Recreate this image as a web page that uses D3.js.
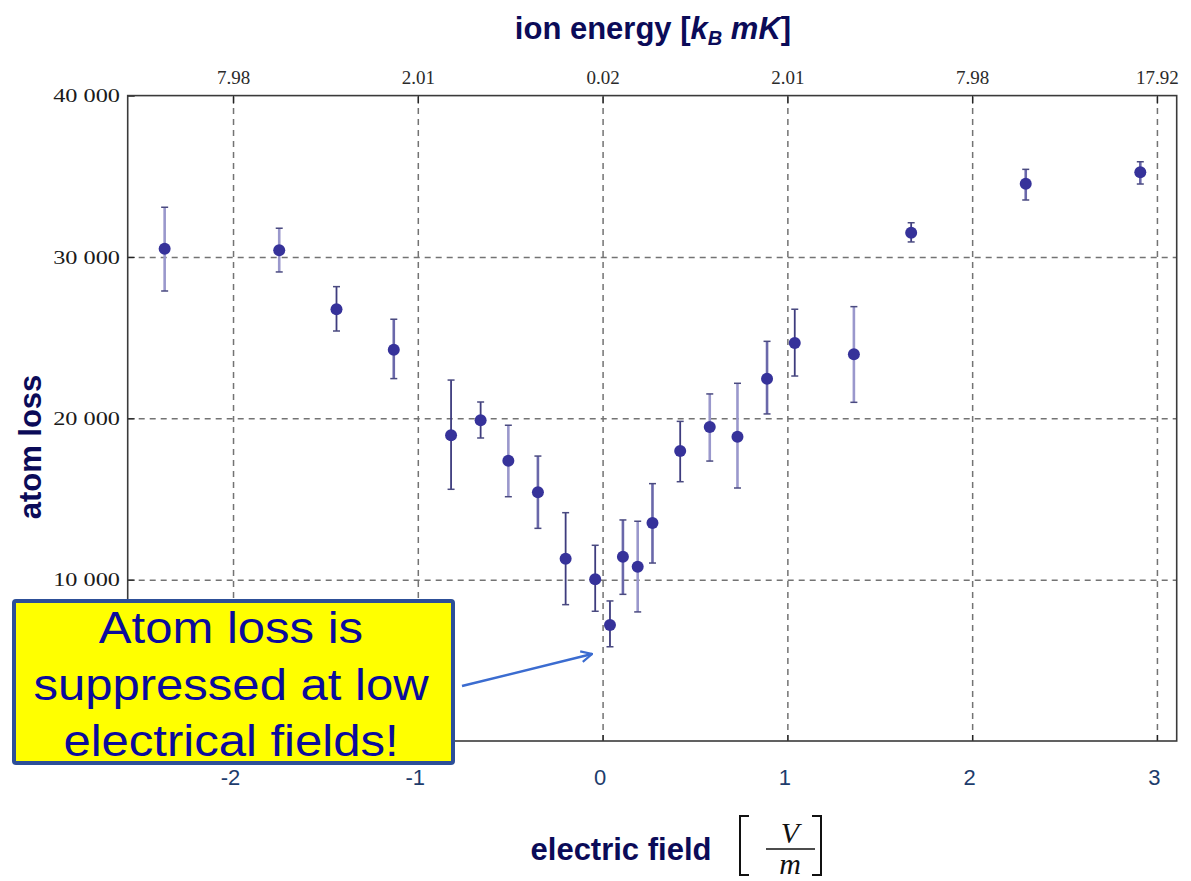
<!DOCTYPE html>
<html>
<head>
<meta charset="utf-8">
<script src="https://cdn.jsdelivr.net/npm/d3@7"></script>
<style>
  body { margin: 0; background: #fff; }
  svg { display: block; }
</style>
</head>
<body>
<div id="chart"></div>
<script>
// ------------ DATA ------------
// electric field [V/m]
var field = [-2.37, -1.75, -1.44, -1.13, -0.82, -0.66, -0.51, -0.35, -0.20, -0.04, 0.04, 0.11,
  0.19, 0.27, 0.42, 0.58, 0.73, 0.89, 1.04, 1.36, 1.67, 2.29, 2.91];
// atom loss, with error bar ends
var atomLoss = [30510, 30410, 26760, 24250, 18950, 19880, 17370, 15410, 11300, 10020, 7190, 11420,
  10800, 13510, 17970, 19460, 18860, 22450, 24670, 23970, 31500, 34540, 35250];
var errHigh = [33080, 31780, 28160, 26140, 22370, 21010, 19570, 17660, 14150, 12130, 8680, 13700,
  13620, 15950, 19810, 21510, 22170, 24770, 26760, 26920, 32120, 35430, 35900];
var errLow = [27890, 29070, 25410, 22460, 15600, 18780, 15140, 13180, 8450, 8040, 5840, 9090,
  8000, 11030, 16070, 17350, 15680, 20270, 22620, 20990, 30930, 33530, 34520];

// axis ticks
var fieldTicks = [-2, -1, 0, 1, 2, 3];
var energyLabels = ["7.98", "2.01", "0.02", "2.01", "7.98", "17.92"];
var lossTicks = [10000, 20000, 30000, 40000];
var lossGrid = [10000, 20000, 30000];

var noteLines = ["Atom loss is", "suppressed at low", "electrical fields!"];

// ------------ STYLE ------------
// error bar tone per point (0 dark, 1 mid, 2 light)
var barTone = [2, 2, 0, 1, 0, 0, 2, 1, 0, 0, 0, 1, 2, 1, 0, 2, 2, 1, 0, 2, 0, 1, 1];
var toneColor = ["#3e3c7e", "#6a68aa", "#9a98cc"];
var navy = "#0b0b58";

var svgWidth = 1191;
var svgHeight = 881;

var margin = { top: 95.6, left: 127.7, right: 1191 - 1176.7, bottom: 881 - 741 };
var chartWidth = svgWidth - margin.left - margin.right;
var chartHeight = svgHeight - margin.top - margin.bottom;

var svg = d3.select("#chart")
  .append("svg")
  .attr("width", svgWidth)
  .attr("height", svgHeight);

var chartGroup = svg.append("g")
  .attr("transform", `translate(${margin.left}, ${margin.top})`);

// ------------ SCALES ------------
var x = d3.scaleLinear()
  .domain([-2.57, 3.107])
  .range([0, chartWidth]);
var y = d3.scaleLinear()
  .domain([0, 40000])
  .range([chartHeight, 0]);

// ------------ GRID ------------
var gridX = chartGroup.append("g")
  .attr("transform", `translate(0, ${chartHeight})`)
  .call(d3.axisBottom(x).tickValues(fieldTicks).tickSize(-chartHeight).tickFormat(""));
var gridY = chartGroup.append("g")
  .call(d3.axisLeft(y).tickValues(lossGrid).tickSize(-chartWidth).tickFormat(""));
[gridX, gridY].forEach(function(g) {
  g.select(".domain").remove();
  g.selectAll("line")
    .attr("stroke", "#737373")
    .attr("stroke-width", 1.5)
    .attr("stroke-dasharray", "6,5");
});

// ------------ AXES ------------
var fmt = function(d) { return d3.format(",")(d).replace(",", " "); };

var leftAxis = chartGroup.append("g")
  .call(d3.axisLeft(y).tickValues(lossTicks).tickFormat(fmt).tickSize(-7).tickSizeOuter(0).tickPadding(6));
leftAxis.selectAll("text")
  .attr("font-family", "'Liberation Serif', 'Times New Roman', serif")
  .attr("font-size", "19px")
  .attr("fill", "#1a1a1a")
  .attr("transform", "scale(1.28,1)");

var topAxis = chartGroup.append("g")
  .call(d3.axisTop(x).tickValues(fieldTicks).tickFormat(function(d, i) { return energyLabels[i]; })
    .tickSize(-8).tickSizeOuter(0).tickPadding(12));
topAxis.selectAll("text")
  .attr("font-family", "'Liberation Serif', 'Times New Roman', serif")
  .attr("font-size", "19px")
  .attr("fill", "#2a2a2a");

var bottomAxis = chartGroup.append("g")
  .attr("transform", `translate(0, ${chartHeight})`)
  .call(d3.axisBottom(x).tickValues(fieldTicks).tickFormat(function(d) { return String(d); })
    .tickSize(-6).tickSizeOuter(0).tickPadding(28));
bottomAxis.selectAll("text")
  .attr("font-family", "'Liberation Sans', Arial, sans-serif")
  .attr("font-size", "22px")
  .attr("fill", "#1d3c6c")
  .attr("dx", "-3");

[leftAxis, topAxis, bottomAxis].forEach(function(g) {
  g.select(".domain").remove();
  g.selectAll("line").attr("stroke", "#222").attr("stroke-width", 1.3);
});

// frame
chartGroup.append("rect")
  .attr("width", chartWidth)
  .attr("height", chartHeight)
  .attr("fill", "none")
  .attr("stroke", "#3a3a3a")
  .attr("stroke-width", 1.6);

// ------------ DATA (ERROR BARS + DOTS) ------------
var points = field.map(function(f, i) {
  return { f: f, v: atomLoss[i], hi: errHigh[i], lo: errLow[i], tone: barTone[i] };
});

var bars = chartGroup.append("g").selectAll("g")
  .data(points)
  .enter()
  .append("g");
bars.append("line")
  .attr("x1", d => x(d.f)).attr("x2", d => x(d.f))
  .attr("y1", d => y(d.hi)).attr("y2", d => y(d.lo))
  .attr("stroke", d => toneColor[d.tone])
  .attr("stroke-width", d => d.tone === 0 ? 1.8 : 2.6);
["hi", "lo"].forEach(function(k) {
  bars.append("line")
    .attr("x1", d => x(d.f) - 3.5).attr("x2", d => x(d.f) + 3.5)
    .attr("y1", d => y(d[k])).attr("y2", d => y(d[k]))
    .attr("stroke", "#4a4a80")
    .attr("stroke-width", 1.5);
});

chartGroup.append("g").selectAll("circle")
  .data(points)
  .enter()
  .append("circle")
  .attr("cx", d => x(d.f))
  .attr("cy", d => y(d.v))
  .attr("r", 6)
  .attr("fill", "#36329a");

// ------------ LABELS ------------
var sans = "'Liberation Sans', Arial, sans-serif";

var topTitle = svg.append("text")
  .attr("x", 653)
  .attr("y", 39)
  .attr("text-anchor", "middle")
  .attr("font-family", sans)
  .attr("font-size", "31px")
  .attr("font-weight", "bold")
  .attr("fill", navy);
topTitle.append("tspan").text("ion energy [");
topTitle.append("tspan").attr("font-style", "italic").text("k");
topTitle.append("tspan").attr("font-style", "italic").attr("font-size", "20px").attr("dy", 6).text("B");
topTitle.append("tspan").attr("font-style", "italic").attr("dy", -6).text(" mK");
topTitle.append("tspan").text("]");

svg.append("text")
  .attr("transform", "translate(41, 447) rotate(-90)")
  .attr("text-anchor", "middle")
  .attr("font-family", sans)
  .attr("font-size", "31px")
  .attr("font-weight", "bold")
  .attr("fill", navy)
  .text("atom loss");

svg.append("text")
  .attr("x", 621)
  .attr("y", 860)
  .attr("text-anchor", "middle")
  .attr("font-family", sans)
  .attr("font-size", "31px")
  .attr("font-weight", "bold")
  .attr("fill", navy)
  .text("electric field");

// unit [V/m]
var serif = "'Liberation Serif', 'Times New Roman', serif";
var unit = svg.append("g").attr("fill", "#111").attr("font-family", serif);
unit.append("path")
  .attr("d", "M749,816 H740 V875 H749 M812,816 H821 V875 H812")
  .attr("fill", "none")
  .attr("stroke", "#111")
  .attr("stroke-width", 2);
unit.append("text").attr("x", 790).attr("y", 843).attr("text-anchor", "middle")
  .attr("font-size", "30px").attr("font-style", "italic").text("V");
unit.append("text").attr("x", 790).attr("y", 874).attr("text-anchor", "middle")
  .attr("font-size", "30px").attr("font-style", "italic").text("m");
unit.append("line").attr("x1", 766).attr("x2", 815).attr("y1", 849).attr("y2", 849)
  .attr("stroke", "#111").attr("stroke-width", 1.3);

// ------------ ANNOTATION ------------
svg.append("defs").append("marker")
  .attr("id", "openArrow")
  .attr("viewBox", "0 0 12 12")
  .attr("refX", 11).attr("refY", 6)
  .attr("markerWidth", 13).attr("markerHeight", 13)
  .attr("markerUnits", "userSpaceOnUse")
  .attr("orient", "auto")
  .append("path")
  .attr("d", "M1,1 L11,6 L1,11")
  .attr("fill", "none")
  .attr("stroke", "#3b6cd0")
  .attr("stroke-width", 2);

svg.append("line")
  .attr("x1", 462).attr("y1", 686)
  .attr("x2", 592).attr("y2", 654)
  .attr("stroke", "#3b6cd0")
  .attr("stroke-width", 2.5)
  .attr("marker-end", "url(#openArrow)");

svg.append("rect")
  .attr("x", 14).attr("y", 601)
  .attr("width", 439).attr("height", 162)
  .attr("rx", 2)
  .attr("fill", "#ffff00")
  .attr("stroke", "#2d4f98")
  .attr("stroke-width", 4);

svg.append("g").selectAll("text")
  .data(noteLines)
  .enter()
  .append("text")
  .attr("transform", (d, i) => `translate(231, ${643 + i * 56.5}) scale(1.09,1)`)
  .attr("text-anchor", "middle")
  .attr("font-family", sans)
  .attr("font-size", "45px")
  .attr("fill", "#0b0b9c")
  .text(d => d);
</script>
</body>
</html>
